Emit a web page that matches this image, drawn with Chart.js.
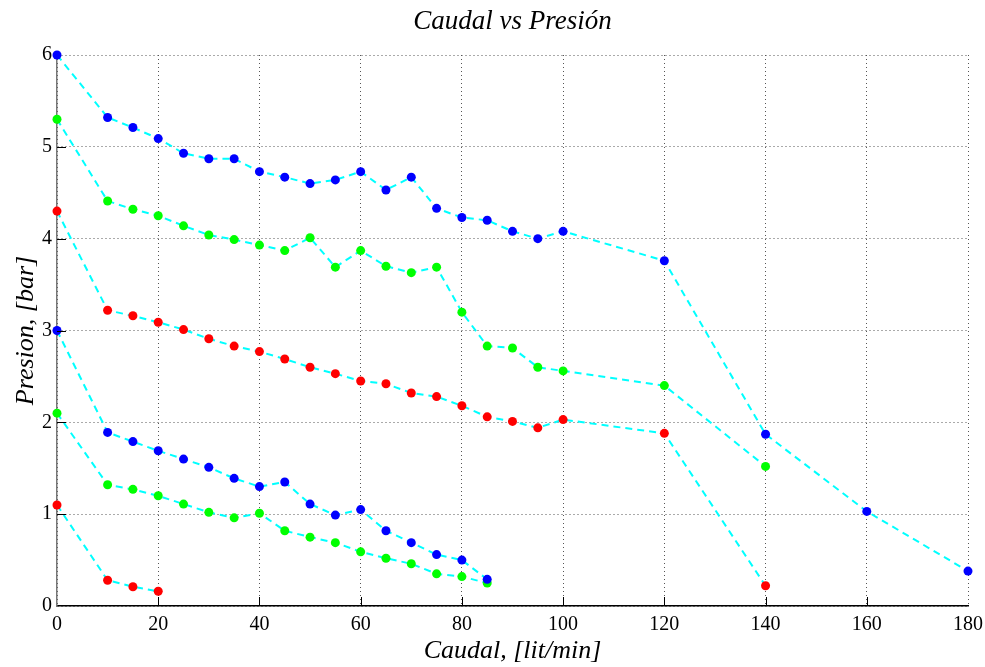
<!DOCTYPE html>
<html>
<head>
<meta charset="utf-8">
<script src="https://cdn.jsdelivr.net/npm/chart.js@4.4.1/dist/chart.umd.min.js"></script>
<style>
    html, body { margin: 0; padding: 0; background: #fff; }
    #grafico { display: block; }
</style>
</head>
<body>
<canvas id="grafico" width="985" height="667"></canvas>
<script>
// Caudal [lit/min] de cada ensayo
const caudalLargo = [0, 10, 15, 20, 25, 30, 35, 40, 45, 50, 55, 60, 65, 70, 75, 80, 85, 90, 95, 100, 120, 140, 160, 180];
const caudalMedio = [0, 10, 15, 20, 25, 30, 35, 40, 45, 50, 55, 60, 65, 70, 75, 80, 85, 90, 95, 100, 120, 140];
const caudalCorto = [0, 10, 15, 20, 25, 30, 35, 40, 45, 50, 55, 60, 65, 70, 75, 80, 85];
const caudalMinimo = [0, 10, 15, 20];

// Presion [bar]
const presionAzulAlta = [6.0, 5.32, 5.21, 5.09, 4.93, 4.87, 4.87, 4.73, 4.67, 4.60, 4.64, 4.73, 4.53, 4.67, 4.33, 4.23, 4.20, 4.08, 4.00, 4.08, 3.76, 1.87, 1.03, 0.38];
const presionVerdeAlta = [5.3, 4.41, 4.32, 4.25, 4.14, 4.04, 3.99, 3.93, 3.87, 4.01, 3.69, 3.87, 3.70, 3.63, 3.69, 3.20, 2.83, 2.81, 2.60, 2.56, 2.40, 1.52];
const presionRojaAlta = [4.3, 3.22, 3.16, 3.09, 3.01, 2.91, 2.83, 2.77, 2.69, 2.60, 2.53, 2.45, 2.42, 2.32, 2.28, 2.18, 2.06, 2.01, 1.94, 2.03, 1.88, 0.22];
const presionAzulBaja = [3.0, 1.89, 1.79, 1.69, 1.60, 1.51, 1.39, 1.30, 1.35, 1.11, 0.99, 1.05, 0.82, 0.69, 0.56, 0.50, 0.29];
const presionVerdeBaja = [2.1, 1.32, 1.27, 1.20, 1.11, 1.02, 0.96, 1.01, 0.82, 0.75, 0.69, 0.59, 0.52, 0.46, 0.35, 0.32, 0.25];
const presionRojaBaja = [1.1, 0.28, 0.21, 0.16];

const ticksX = [0, 20, 40, 60, 80, 100, 120, 140, 160, 180];
const ticksY = [0, 1, 2, 3, 4, 5, 6];

const titulo = 'Caudal vs Presión';
const FUENTE = '"Liberation Serif", "DejaVu Serif", serif';

function serie(xs, ys, color) {
    return {
        data: xs.map((x, i) => ({ x: x, y: ys[i] })),
        showLine: true,
        borderColor: '#00FFFF',
        borderWidth: 2,
        borderDash: [7, 5],
        pointRadius: 4.5,
        pointBorderWidth: 0,
        pointBackgroundColor: color,
        pointBorderColor: color,
        clip: false
    };
}

// marcas interiores tipo MATLAB + titulo centrado sobre el area del grafico
const marcasInternas = {
    id: 'marcasInternas',
    afterDraw(chart) {
        const { ctx, chartArea, scales } = chart;
        ctx.save();
        ctx.strokeStyle = '#000';
        ctx.lineWidth = 1;
        ticksY.slice(1, -1).forEach(v => {
            const y = Math.round(scales.y.getPixelForValue(v)) + 0.5;
            ctx.beginPath();
            ctx.moveTo(chartArea.left, y);
            ctx.lineTo(chartArea.left + 9, y);
            ctx.stroke();
        });
        ticksX.slice(1, -1).forEach(v => {
            const x = Math.round(scales.x.getPixelForValue(v)) + 0.5;
            ctx.beginPath();
            ctx.moveTo(x, chartArea.bottom);
            ctx.lineTo(x, chartArea.bottom - 9);
            ctx.stroke();
        });
        ctx.fillStyle = '#000';
        ctx.font = 'italic 27px ' + FUENTE;
        ctx.textAlign = 'center';
        ctx.textBaseline = 'middle';
        ctx.fillText(titulo, (chartArea.left + chartArea.right) / 2, 22);
        ctx.restore();
    }
};

new Chart(document.getElementById('grafico').getContext('2d'), {
    type: 'scatter',
    data: {
        datasets: [
            serie(caudalLargo, presionAzulAlta, '#0000FF'),
            serie(caudalMedio, presionVerdeAlta, '#00FF00'),
            serie(caudalMedio, presionRojaAlta, '#FF0000'),
            serie(caudalCorto, presionAzulBaja, '#0000FF'),
            serie(caudalCorto, presionVerdeBaja, '#00FF00'),
            serie(caudalMinimo, presionRojaBaja, '#FF0000')
        ]
    },
    options: {
        responsive: false,
        animation: false,
        layout: { padding: { left: 0, right: 17, top: 55, bottom: 0 } },
        plugins: {
            legend: { display: false },
            tooltip: { enabled: false },
            title: { display: false }
        },
        scales: {
            x: {
                type: 'linear',
                min: 0,
                max: 180,
                afterBuildTicks: (s) => { s.ticks = ticksX.map(v => ({ value: v })); },
                afterFit: (s) => { s.height = 61; s.paddingRight = 0; s.paddingLeft = 0; },
                grid: { color: '#555', drawTicks: false, lineWidth: 1 },
                border: { display: true, color: '#000', width: 1.5, dash: [1, 3] },
                ticks: { color: '#000', padding: 7, font: { family: FUENTE, size: 20 }, maxRotation: 0 },
                title: {
                    display: true,
                    text: 'Caudal, [lit/min]',
                    color: '#000',
                    font: { family: FUENTE, size: 26, style: 'italic', lineHeight: 1.2 },
                    padding: { top: 0, bottom: 0 }
                }
            },
            y: {
                type: 'linear',
                min: 0,
                max: 6,
                afterBuildTicks: (s) => { s.ticks = ticksY.map(v => ({ value: v })); },
                afterFit: (s) => { s.width = 57; s.paddingTop = 0; s.paddingBottom = 0; },
                grid: { color: '#555', drawTicks: false, lineWidth: 1 },
                border: { display: true, color: '#777', width: 1.5, dash: [1, 3] },
                ticks: { color: '#000', padding: 5, font: { family: FUENTE, size: 20 } },
                title: {
                    display: true,
                    text: 'Presion, [bar]',
                    color: '#000',
                    font: { family: FUENTE, size: 26, style: 'italic', lineHeight: 1.2 },
                    padding: { top: 11, bottom: 0 }
                }
            }
        }
    },
    plugins: [marcasInternas]
});
</script>
</body>
</html>
